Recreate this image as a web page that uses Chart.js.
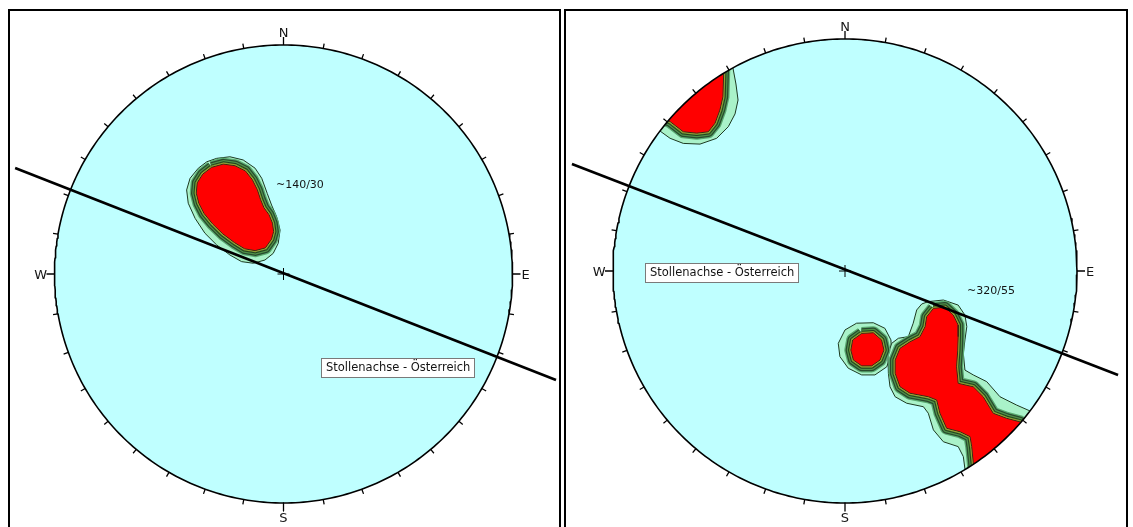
<!DOCTYPE html>
<html>
<head>
<meta charset="utf-8">
<script src="https://cdn.jsdelivr.net/npm/chart.js@4.4.1/dist/chart.umd.min.js"></script>
<style>
  html, body { margin: 0; padding: 0; background: #fff; width: 1133px; height: 527px; overflow: hidden; }
  .panel { position: absolute; top: 9px; height: 540px; border: 2px solid #000; border-bottom: none; box-sizing: border-box; }
  canvas { position: absolute; display: block; }
</style>
</head>
<body>
<div class="panel" style="left:8px;width:553px"></div>
<div class="panel" style="left:564px;width:564px"></div>
<canvas id="netA" width="549" height="516" style="left:10px;top:11px"></canvas>
<canvas id="netB" width="559" height="516" style="left:566px;top:11px"></canvas>
<script>
// Compass labels around each net
const compassLabels = ['N', 'E', 'S', 'W'];
const compassAzimuths = [0, 90, 180, 270];
const tickStepDeg = 10;

// Label texts
const axisLabel = 'Stollenachse - Österreich';
const poleLabelA = '~140/30';
const poleLabelB = '~320/55';

// Tunnel axis trace (projection coordinates, unit net radius)
const axisTraceA = [[-1.172, 0.463], [1.190, -0.463]];
const axisTraceB = [[-1.177, 0.461], [1.177, -0.448]];

// Net A: pole density, lowest contour and maximum zone
const densOuterA = [
  [-0.292, 0.505], [-0.234, 0.512], [-0.176, 0.498], [-0.124, 0.462], [-0.095, 0.418],
  [-0.071, 0.352], [-0.052, 0.301], [-0.030, 0.250], [-0.015, 0.192], [-0.023, 0.134],
  [-0.045, 0.090], [-0.081, 0.061], [-0.132, 0.047], [-0.183, 0.054], [-0.234, 0.083],
  [-0.292, 0.127], [-0.343, 0.178], [-0.386, 0.243], [-0.416, 0.309], [-0.423, 0.367],
  [-0.408, 0.418], [-0.372, 0.462], [-0.335, 0.490]
];
const densMaxA = [
  [-0.314, 0.466], [-0.263, 0.480], [-0.212, 0.473], [-0.166, 0.450], [-0.136, 0.412],
  [-0.114, 0.368], [-0.100, 0.325], [-0.085, 0.289], [-0.063, 0.259], [-0.048, 0.222],
  [-0.043, 0.185], [-0.052, 0.152], [-0.079, 0.114], [-0.124, 0.102], [-0.170, 0.110],
  [-0.214, 0.137], [-0.265, 0.175], [-0.310, 0.219], [-0.347, 0.264], [-0.370, 0.309],
  [-0.381, 0.353], [-0.377, 0.398], [-0.353, 0.436]
];

// Net B: three pole clusters
const densOuterB1 = [
  [-0.483, 0.875], [-0.470, 0.806], [-0.461, 0.737], [-0.474, 0.677], [-0.503, 0.622],
  [-0.553, 0.572], [-0.625, 0.547], [-0.697, 0.550], [-0.754, 0.572], [-0.797, 0.603],
  [-0.862, 0.629], [-0.884, 0.759], [-0.625, 0.953], [-0.487, 0.918]
];
const densMaxB1 = [
  [-0.522, 0.884], [-0.526, 0.751], [-0.539, 0.694], [-0.560, 0.637], [-0.589, 0.600],
  [-0.639, 0.594], [-0.697, 0.600], [-0.754, 0.644], [-0.819, 0.668], [-0.841, 0.780],
  [-0.668, 0.931], [-0.547, 0.931]
];
const densOuterB2 = [
  [0.050, -0.225], [0.122, -0.223], [0.172, -0.247], [0.198, -0.297], [0.201, -0.355],
  [0.180, -0.413], [0.129, -0.448], [0.072, -0.448], [0.014, -0.419], [-0.022, -0.369],
  [-0.029, -0.312], [0.000, -0.254]
];
const densMaxB2 = [
  [0.072, -0.269], [0.122, -0.266], [0.158, -0.297], [0.168, -0.341], [0.151, -0.384],
  [0.115, -0.409], [0.072, -0.409], [0.036, -0.384], [0.025, -0.341], [0.033, -0.297]
];
const densOuterB3 = [
  [0.359, -0.132], [0.424, -0.125], [0.488, -0.147], [0.517, -0.190], [0.525, -0.240],
  [0.517, -0.297], [0.510, -0.355], [0.517, -0.427], [0.553, -0.448], [0.611, -0.477],
  [0.668, -0.542], [0.740, -0.578], [0.797, -0.603], [0.875, -0.642], [0.603, -0.953],
  [0.522, -0.892], [0.510, -0.800], [0.488, -0.757], [0.424, -0.736], [0.381, -0.685],
  [0.359, -0.613], [0.338, -0.585], [0.266, -0.570], [0.216, -0.542], [0.194, -0.499],
  [0.187, -0.441], [0.185, -0.362], [0.201, -0.312], [0.230, -0.290], [0.273, -0.283],
  [0.294, -0.225], [0.309, -0.168], [0.331, -0.142]
];
const densMaxB3 = [
  [0.381, -0.161], [0.431, -0.156], [0.467, -0.190], [0.488, -0.233], [0.488, -0.283],
  [0.486, -0.341], [0.481, -0.413], [0.488, -0.484], [0.553, -0.499], [0.596, -0.542],
  [0.639, -0.613], [0.697, -0.635], [0.754, -0.650], [0.819, -0.694], [0.625, -0.922],
  [0.556, -0.858], [0.546, -0.757], [0.539, -0.714], [0.496, -0.693], [0.438, -0.678],
  [0.409, -0.613], [0.395, -0.556], [0.359, -0.542], [0.280, -0.527], [0.237, -0.499],
  [0.216, -0.441], [0.216, -0.384], [0.237, -0.333], [0.280, -0.305], [0.323, -0.283],
  [0.345, -0.240], [0.352, -0.197]
];

const toPts = a => a.map(([x, y]) => ({ x, y }));
const closed = a => toPts(a.concat([a[0]]));
const GAP = { x: null, y: null };

// Styling of the stacked contour bands around each maximum zone (widest first)
const bandStrokes = [
  { w: 13, c: '#5aa96f' },
  { w: 10.5, c: '#284a2e' },
  { w: 8, c: '#4f9048' },
  { w: 5.5, c: '#22401f' },
  { w: 3.5, c: '#6f9432' },
  { w: 1.8, c: '#c4b53a' }
];

function circlePoints(r) {
  const p = [];
  for (let a = 0; a <= 360; a += 1) {
    const t = a * Math.PI / 180;
    p.push({ x: r * Math.sin(t), y: r * Math.cos(t) });
  }
  return p;
}

function tickPoints(radiusPx) {
  const p = [];
  for (let az = 0; az < 360; az += tickStepDeg) {
    const len = (az % 90 === 0 ? 8 : 5) / radiusPx;
    const t = az * Math.PI / 180;
    p.push({ x: Math.sin(t), y: Math.cos(t) });
    p.push({ x: (1 + len) * Math.sin(t), y: (1 + len) * Math.cos(t) });
    p.push(GAP);
  }
  return p;
}

function maskPoints() {
  // white surround outside the primitive circle (outer box reversed against the circle)
  const p = circlePoints(1);
  p.push({ x: 0, y: 3 }, { x: -3, y: 3 }, { x: -3, y: -3 }, { x: 3, y: -3 }, { x: 3, y: 3 }, { x: 0, y: 3 }, { x: 0, y: 1 });
  return p;
}

const netText = {
  id: 'netText',
  afterDatasetsDraw(chart, args, opts) {
    const { ctx } = chart;
    const sx = chart.scales.x, sy = chart.scales.y;
    const X = v => sx.getPixelForValue(v), Y = v => sy.getPixelForValue(v);
    const cx = X(0), cy = Y(0), R = X(1) - X(0);
    ctx.save();
    ctx.fillStyle = '#141414';
    ctx.font = '13px "DejaVu Sans"';
    ctx.textBaseline = 'alphabetic';
    compassLabels.forEach((lab, i) => {
      const az = compassAzimuths[i];
      if (az === 0) { ctx.textAlign = 'center'; ctx.fillText(lab, cx, cy - R - 8.5); }
      else if (az === 180) { ctx.textAlign = 'center'; ctx.fillText(lab, cx, cy + R + 18.5); }
      else if (az === 90) { ctx.textAlign = 'left'; ctx.fillText(lab, cx + R + 9, cy + 5); }
      else { ctx.textAlign = 'right'; ctx.fillText(lab, cx - R - 7.5, cy + 5); }
    });
    // pole orientation note
    ctx.font = '11px "DejaVu Sans"';
    ctx.textAlign = 'left';
    ctx.textBaseline = 'middle';
    ctx.fillText(opts.pole.text, X(opts.pole.at[0]), Y(opts.pole.at[1]));
    // tunnel axis label box
    ctx.font = '11.5px "DejaVu Sans"';
    const bx = Math.round(X(opts.box.at[0])) + 0.5, by = Math.round(Y(opts.box.at[1])) + 0.5;
    const w = Math.round(ctx.measureText(opts.box.text).width + 9), h = 19;
    ctx.fillStyle = '#ffffff';
    ctx.fillRect(bx, by, w, h);
    ctx.strokeStyle = '#7a7a7a';
    ctx.lineWidth = 1;
    ctx.strokeRect(bx, by, w, h);
    ctx.fillStyle = '#141414';
    ctx.fillText(opts.box.text, bx + 4.5, by + h / 2 + 0.5);
    ctx.restore();
  }
};

function buildNet(canvasId, centerPx, radiusPx, blobs, axisTrace, pole, box) {
  const cv = document.getElementById(canvasId);
  const W = cv.width, H = cv.height;
  const layers = [];
  layers.push({ data: circlePoints(1), fill: 'shape', backgroundColor: '#bfffff', borderWidth: 0 });
  blobs.forEach(b => {
    layers.push({ data: closed(b.outer), fill: 'shape', backgroundColor: '#a9f2c9', borderColor: '#1d3a22', borderWidth: 1 });
  });
  blobs.forEach(b => {
    bandStrokes.forEach(s => layers.push({ data: closed(b.max), fill: false, borderColor: s.c, borderWidth: s.w }));
  });
  blobs.forEach(b => {
    layers.push({ data: closed(b.max), fill: 'shape', backgroundColor: '#ff0000', borderColor: '#3a2a12', borderWidth: 1 });
  });
  layers.push({ data: maskPoints(), fill: 'shape', backgroundColor: '#ffffff', borderWidth: 0 });
  layers.push({ data: circlePoints(1), fill: false, borderColor: '#000', borderWidth: 1.6 });
  layers.push({ data: tickPoints(radiusPx), fill: false, borderColor: '#000', borderWidth: 1.3, borderCapStyle: 'butt' });
  const arm = 6 / radiusPx;
  layers.push({ data: [{ x: -arm, y: 0 }, { x: arm, y: 0 }, GAP, { x: 0, y: -arm }, { x: 0, y: arm }], fill: false, borderColor: '#000', borderWidth: 1 });
  layers.push({ data: toPts(axisTrace), fill: false, borderColor: '#000', borderWidth: 2.6 });

  const n = layers.length;
  const datasets = layers.map((l, i) => Object.assign({
    pointRadius: 0, pointHoverRadius: 0, tension: 0, spanGaps: false,
    borderJoinStyle: 'round', order: n - i
  }, l));

  return new Chart(cv, {
    type: 'line',
    data: { datasets },
    options: {
      indexAxis: 'y',
      responsive: false,
      maintainAspectRatio: false,
      devicePixelRatio: 1,
      animation: false,
      events: [],
      layout: { padding: 0 },
      scales: {
        x: { type: 'linear', display: false, bounds: 'data', min: -centerPx[0] / radiusPx, max: (W - centerPx[0]) / radiusPx },
        y: { type: 'linear', display: false, bounds: 'data', min: -(H - centerPx[1]) / radiusPx, max: centerPx[1] / radiusPx }
      },
      plugins: {
        legend: { display: false },
        tooltip: { enabled: false },
        filler: { propagate: false },
        netText: { pole, box }
      }
    },
    plugins: [netText]
  });
}

buildNet('netA', [273.5, 263], 229,
  [{ outer: densOuterA, max: densMaxA }],
  axisTraceA,
  { text: poleLabelA, at: [-0.033, 0.389] },
  { text: axisLabel, at: [0.162, -0.368] });

buildNet('netB', [279, 260], 232,
  [{ outer: densOuterB1, max: densMaxB1 }, { outer: densOuterB2, max: densMaxB2 }, { outer: densOuterB3, max: densMaxB3 }],
  axisTraceB,
  { text: poleLabelB, at: [0.526, -0.086] },
  { text: axisLabel, at: [-0.862, 0.034] });
</script>
</body>
</html>
